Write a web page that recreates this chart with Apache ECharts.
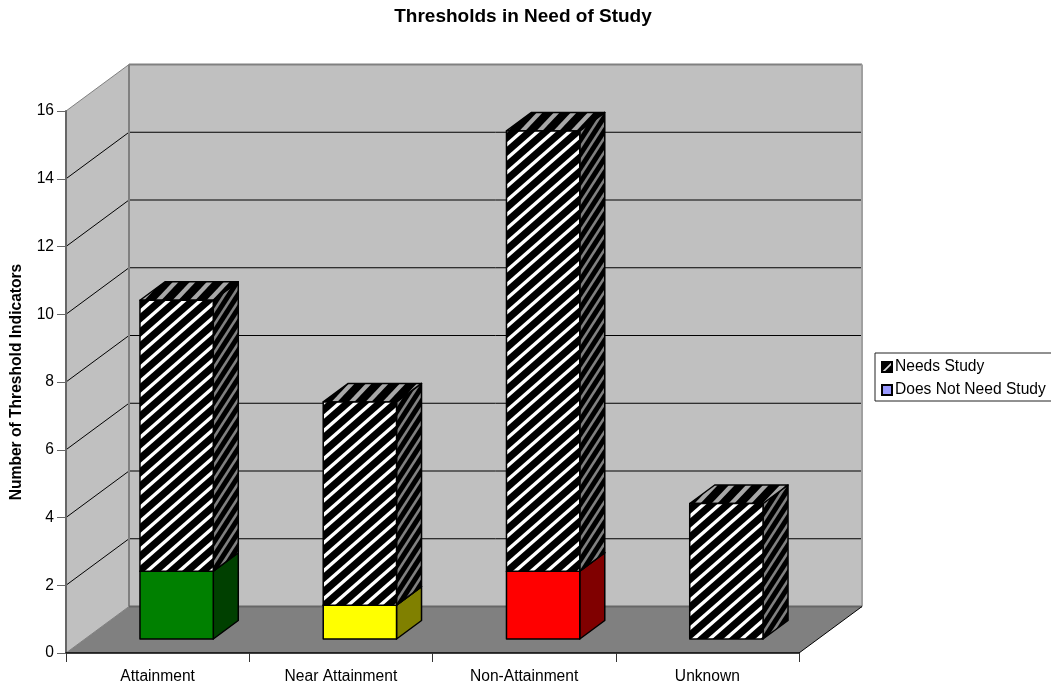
<!DOCTYPE html>
<html>
<head>
<meta charset="utf-8">
<style>
html, body { margin: 0; padding: 0; background: #fff; }
#main { width: 1051px; height: 685px; }
</style>
<script src="https://cdn.jsdelivr.net/npm/echarts@6/dist/echarts.min.js"></script>
</head>
<body>
<div id="main"></div>
<script>
var categories = ['Attainment', 'Near Attainment', 'Non-Attainment', 'Unknown'];
var needsStudy = [8, 6, 13, 4];
var doesNotNeedStudy = [2, 1, 2, 0];
var yTicks = { min: 0, max: 16, interval: 2 };
var lowerColors = ['#008000', '#FFFF00', '#FF0000', '#9999FF'];
var lowerSideColors = ['#004000', '#808000', '#800000', '#4C4C80'];

var FONT = '"Liberation Sans", Arial, sans-serif';
// projection of the box: back wall offset, offset of the bars from the front, bar depth
var WALL_DX = 63, WALL_DY = -46.5;
var GAP_DX = 19, GAP_DY = -14;
var BAR_DX = 25, BAR_DY = -18.5;
var BAR_RATIO = 0.4;

// one diagonal stripe per tile, wrapped so that the tile repeats
function stripes(w, h, bg, fg, lw) {
    var c = document.createElement('canvas');
    c.width = w;
    c.height = h;
    var g = c.getContext('2d');
    g.fillStyle = bg;
    g.fillRect(0, 0, w, h);
    g.strokeStyle = fg;
    g.lineWidth = lw;
    g.filter = 'blur(0.6px)';
    for (var k = -2; k <= 2; k++) {
        g.beginPath();
        g.moveTo(k * w - w * 0.5, h * 1.5);
        g.lineTo(k * w + w * 1.5, -h * 0.5);
        g.stroke();
    }
    return { image: c, repeat: 'repeat' };
}
var frontPattern = stripes(16, 14, '#000', '#fff', 3.4);
var sidePattern = stripes(9, 14, '#000', '#808080', 2.6);
var topPattern = stripes(17, 18, '#000', '#a8a8a8', 4.2);
var legendPattern = stripes(11, 11, '#000', '#ddd', 1.6);

function poly(points, fill, stroke, width) {
    return {
        type: 'polygon',
        shape: { points: points },
        silent: true,
        style: { fill: fill, stroke: stroke || null, lineWidth: width === undefined ? 1 : width, lineJoin: 'round' }
    };
}
function line(a, b, color, width) {
    return {
        type: 'line',
        shape: { x1: a[0], y1: a[1], x2: b[0], y2: b[1] },
        silent: true,
        style: { stroke: color, lineWidth: width || 1 }
    };
}
function back(p) {
    return [p[0] + WALL_DX, p[1] + WALL_DY];
}

function renderWalls(params, api) {
    var n = categories.length;
    var o = api.coord([0, yTicks.min]);
    var halfBand = api.size([1, 0])[0] / 2;
    var bl = [o[0] - halfBand, o[1]];
    var br = [bl[0] + halfBand * 2 * n, o[1]];
    var tl = [bl[0], api.coord([0, yTicks.max])[1]];
    var tr = [br[0], tl[1]];
    var kids = [
        poly([bl, tl, back(tl), back(bl)], '#C0C0C0'),
        poly([back(bl), back(tl), back(tr), back(br)], '#C0C0C0'),
        poly([bl, back(bl), back(br), br], '#808080')
    ];
    for (var v = yTicks.min + yTicks.interval; v < yTicks.max; v += yTicks.interval) {
        var y = api.coord([0, v])[1];
        kids.push(line([bl[0], y], back([bl[0], y]), '#000'));
        kids.push(line(back([bl[0], y]), back([br[0], y]), '#000'));
    }
    kids.push(line(bl, back(bl), '#808080', 1));
    kids.push(line(tl, back(tl), '#808080', 1));
    kids.push(line(back(bl), back(tl), '#808080', 2));
    kids.push(line(back(tl), back(tr), '#808080', 2));
    kids.push(line(back(tr), back(br), '#A0A0A0', 2));
    kids.push(line(back(bl), back(br), '#666', 2));
    kids.push(line(br, back(br), '#000', 1));
    return { type: 'group', children: kids };
}

function renderBar(front, top, side) {
    return function (params, api) {
        var i = api.value(0);
        var from = api.value(1);
        var to = api.value(2);
        if (to === from) {
            return null;
        }
        var w = api.size([1, 0])[0] * BAR_RATIO;
        var a = api.coord([i, from]);
        var b = api.coord([i, to]);
        var x0 = a[0] - w / 2 + GAP_DX;
        var x1 = x0 + w;
        var y0 = a[1] + GAP_DY;
        var y1 = b[1] + GAP_DY;
        var f = typeof front === 'function' ? front(i) : front;
        var s = typeof side === 'function' ? side(i) : side;
        var t = typeof top === 'function' ? top(i) : top;
        return {
            type: 'group',
            children: [
                poly([[x1, y0], [x1, y1], [x1 + BAR_DX, y1 + BAR_DY], [x1 + BAR_DX, y0 + BAR_DY]], s, '#000', 1.5),
                poly([[x0, y1], [x0 + BAR_DX, y1 + BAR_DY], [x1 + BAR_DX, y1 + BAR_DY], [x1, y1]], t, '#000', 1.5),
                poly([[x0, y0], [x0, y1], [x1, y1], [x1, y0]], f, '#000', 1.5)
            ]
        };
    };
}

var lowerData = categories.map(function (c, i) {
    return [i, 0, doesNotNeedStudy[i]];
});
var upperData = categories.map(function (c, i) {
    return [i, doesNotNeedStudy[i], doesNotNeedStudy[i] + needsStudy[i]];
});

var option = {
    animation: false,
    backgroundColor: '#fff',
    textStyle: { fontFamily: FONT },
    title: {
        text: 'Thresholds in Need of Study',
        left: 518,
        top: 2,
        textAlign: 'center',
        textStyle: { fontFamily: FONT, fontSize: 19, fontWeight: 'bold', color: '#000' }
    },
    legend: {
        data: ['Needs Study', 'Does Not Need Study'],
        icon: 'rect',
        orient: 'vertical',
        left: 875,
        top: 353,
        align: 'left',
        padding: [6, 12, 3, 6],
        itemGap: 7,
        itemWidth: 10,
        itemHeight: 10,
        selectedMode: false,
        borderColor: '#222',
        borderWidth: 1,
        backgroundColor: '#fff',
        textStyle: { fontFamily: FONT, fontSize: 15.6, color: '#000', padding: [0, 0, 0, -2] }
    },
    grid: { left: 66, right: 252, top: 111, bottom: 32, containLabel: false, outerBoundsMode: 'none' },
    xAxis: {
        type: 'category',
        data: categories,
        axisTick: { show: true, alignWithLabel: false, length: 9, lineStyle: { color: '#333', width: 1 } },
        axisLine: { lineStyle: { color: '#000', width: 1.5 } },
        axisLabel: { color: '#000', fontFamily: FONT, fontSize: 15.6, margin: 16, interval: 0 },
        splitLine: { show: false },
        z: 5
    },
    yAxis: {
        type: 'value',
        min: yTicks.min,
        max: yTicks.max,
        interval: yTicks.interval,
        name: 'Number of Threshold Indicators',
        nameLocation: 'middle',
        nameRotate: 90,
        nameGap: 41,
        nameTextStyle: { color: '#000', fontFamily: FONT, fontSize: 15.6, fontWeight: 'bold' },
        axisLine: { show: true, lineStyle: { color: '#666', width: 2 } },
        axisTick: { show: true, length: 9, lineStyle: { color: '#666', width: 1 } },
        axisLabel: { color: '#000', fontFamily: FONT, fontSize: 15.6, margin: 12, padding: [4, 0, 0, 0] },
        splitLine: { show: false },
        z: 5
    },
    series: [
        {
            type: 'custom',
            name: 'walls',
            silent: true,
            z: 1,
            data: [[0, 0]],
            renderItem: renderWalls
        },
        {
            type: 'custom',
            name: 'Does Not Need Study',
            z: 2,
            itemStyle: { color: '#9999FF', borderColor: '#000', borderWidth: 1 },
            encode: { x: 0, y: 2 },
            data: lowerData,
            renderItem: renderBar(
                function (i) { return lowerColors[i]; },
                function (i) { return lowerColors[i]; },
                function (i) { return lowerSideColors[i]; }
            )
        },
        {
            type: 'custom',
            name: 'Needs Study',
            z: 3,
            itemStyle: { color: legendPattern, borderColor: '#000', borderWidth: 1 },
            encode: { x: 0, y: 2 },
            data: upperData,
            renderItem: renderBar(frontPattern, topPattern, sidePattern)
        }
    ]
};

var chart = echarts.init(document.getElementById('main'), null, { renderer: 'canvas' });
chart.setOption(option);
</script>
</body>
</html>
